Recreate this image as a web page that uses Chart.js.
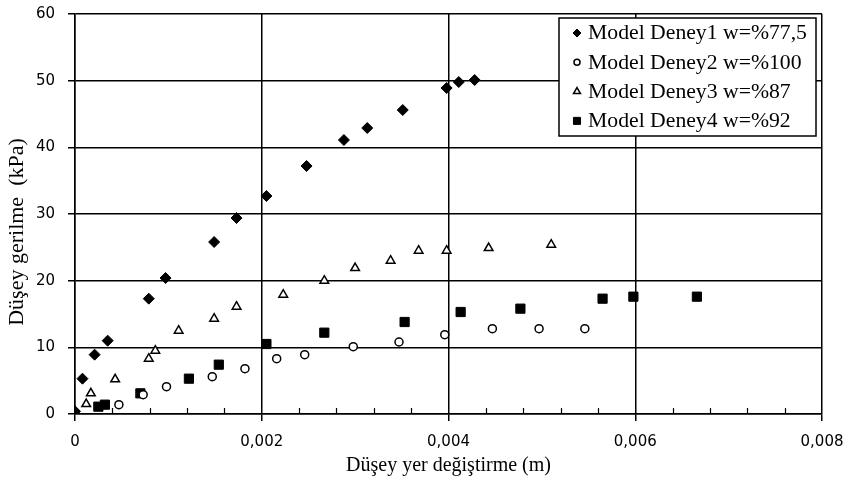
<!DOCTYPE html>
<html>
<head>
<meta charset="utf-8">
<script src="https://cdn.jsdelivr.net/npm/chart.js@4/dist/chart.umd.min.js"></script>
<style>
  body { margin: 0; background: #fff; }
  #wrap { width: 851px; height: 486px; }
</style>
</head>
<body>
<div id="wrap"><canvas id="grafik"></canvas></div>
<script>
// deney verileri: düşey yer değiştirme (m) / düşey gerilme (kPa)
const deney1X = [0, 0.00008, 0.00021, 0.00035, 0.00079, 0.00097, 0.00149, 0.00173, 0.00205, 0.00248, 0.00288, 0.00313, 0.00351, 0.00398, 0.00411, 0.00428];
const deney1Y = [0.4, 5.3, 8.9, 11.0, 17.3, 20.4, 25.8, 29.4, 32.7, 37.2, 41.1, 42.9, 45.6, 48.9, 49.8, 50.1];

const deney2X = [0, 0.00047, 0.00073, 0.00098, 0.00147, 0.00182, 0.00216, 0.00246, 0.00298, 0.00347, 0.00396, 0.00447, 0.00497, 0.00546];
const deney2Y = [0, 1.4, 2.9, 4.1, 5.6, 6.8, 8.3, 8.9, 10.1, 10.8, 11.9, 12.8, 12.8, 12.8];

const deney3X = [0, 0.00012, 0.00017, 0.00043, 0.00079, 0.00086, 0.00111, 0.00149, 0.00173, 0.00223, 0.00267, 0.00300, 0.00338, 0.00368, 0.00398, 0.00443, 0.00510];
const deney3Y = [0, 1.5, 3.1, 5.2, 8.3, 9.5, 12.5, 14.3, 16.1, 17.9, 20.0, 21.9, 23.0, 24.5, 24.5, 24.9, 25.4];

const deney4X = [0.00025, 0.00032, 0.0007, 0.00122, 0.00154, 0.00205, 0.00267, 0.00353, 0.00413, 0.00477, 0.00565, 0.00598, 0.00666];
const deney4Y = [1.1, 1.4, 3.1, 5.3, 7.4, 10.5, 12.2, 13.8, 15.3, 15.8, 17.3, 17.6, 17.6];

const etiketler = ["Model Deney1 w=%77,5", "Model Deney2 w=%100", "Model Deney3 w=%87", "Model Deney4 w=%92"];
const xBaslik = "Düşey yer değiştirme (m)";
const yBaslik = "Düşey gerilme  (kPa)";

const serif = "'Liberation Serif', 'Times New Roman', serif";
const sans = "'DejaVu Sans', Verdana, sans-serif";

const pts = (xs, ys) => xs.map((x, i) => ({ x, y: ys[i] }));

// ara çentikler (eksenin içine doğru) + y başlığı + kutulu lejant
const ekler = {
  id: "ekler",
  afterDraw(chart) {
    const ctx = chart.ctx;
    const xs = chart.scales.x;
    const area = chart.chartArea;
    ctx.save();
    ctx.strokeStyle = "#000";
    ctx.lineWidth = 1.2;
    for (let k = 1; k < 20; k++) {
      if (k % 5 === 0) continue;
      const px = Math.round(xs.getPixelForValue(k * 0.0004)) + 0.5;
      ctx.beginPath();
      ctx.moveTo(px, area.bottom);
      ctx.lineTo(px, area.bottom - 6);
      ctx.stroke();
    }

    // y başlığı
    ctx.save();
    ctx.translate(17, 232);
    ctx.rotate(-Math.PI / 2);
    ctx.fillStyle = "#000";
    ctx.font = "22px " + serif;
    ctx.textAlign = "center";
    ctx.textBaseline = "middle";
    ctx.fillText(yBaslik, 0, 0);
    ctx.restore();

    // lejant
    const lx = area.right - 263, ly = area.top + 4, lw = 257, lh = 118;
    ctx.fillStyle = "#fff";
    ctx.fillRect(lx, ly, lw, lh);
    ctx.lineWidth = 1.5;
    ctx.strokeRect(lx, ly, lw, lh);
    ctx.font = "20px " + serif;
    ctx.textBaseline = "middle";
    chart.data.datasets.forEach((ds, i) => {
      const cy = ly + 15 + i * 29.3;
      ctx.fillStyle = ds.pointBackgroundColor;
      ctx.strokeStyle = "#000";
      ctx.lineWidth = ds.pointBorderWidth;
      Chart.helpers.drawPoint(ctx, {
        pointStyle: ds.pointStyle,
        radius: ds.legendRadius,
        rotation: 0,
        borderWidth: ds.pointBorderWidth
      }, lx + 18, cy);
      ctx.save();
      ctx.translate(lx + 29, cy + 1);
      ctx.scale(1.085, 1);
      ctx.fillStyle = "#000";
      ctx.fillText(ds.label, 0, 0);
      ctx.restore();
    });
    ctx.restore();
  }
};

new Chart(document.getElementById("grafik"), {
  type: "scatter",
  data: {
    datasets: [
      { label: etiketler[0], data: pts(deney1X, deney1Y), pointStyle: "rectRot", pointRadius: 5.5, legendRadius: 4,
        pointBackgroundColor: "#000", pointBorderColor: "#000", pointBorderWidth: 1 },
      { label: etiketler[1], data: pts(deney2X, deney2Y), pointStyle: "circle", pointRadius: 4, legendRadius: 3,
        pointBackgroundColor: "#fff", pointBorderColor: "#000", pointBorderWidth: 1.5 },
      { label: etiketler[2], data: pts(deney3X, deney3Y), pointStyle: "triangle", pointRadius: 5, legendRadius: 4,
        pointBackgroundColor: "#fff", pointBorderColor: "#000", pointBorderWidth: 1.5 },
      { label: etiketler[3], data: pts(deney4X, deney4Y), pointStyle: "rect", pointRadius: 6.5, legendRadius: 5,
        pointBackgroundColor: "#000", pointBorderColor: "#000", pointBorderWidth: 1 }
    ]
  },
  options: {
    responsive: true,
    maintainAspectRatio: false,
    animation: false,
    layout: { padding: { top: 14, right: 29, left: 0, bottom: 0 } },
    plugins: {
      legend: { display: false },
      tooltip: { enabled: false }
    },
    scales: {
      x: {
        type: "linear",
        min: 0,
        max: 0.008,
        afterFit: (s) => { s.height = 72; s.paddingLeft = 0; s.paddingRight = 0; },
        border: { color: "#000", width: 1.5 },
        grid: { color: "#000", lineWidth: 1.5, tickLength: 7 },
        ticks: {
          stepSize: 0.002,
          color: "#000",
          padding: 12,
          font: { family: sans, size: 15 },
          callback: (v) => v === 0 ? "0" : v.toFixed(3).replace(".", ",")
        },
        title: {
          display: true,
          text: xBaslik,
          color: "#000",
          font: { family: serif, size: 20 },
          padding: { top: 0, bottom: 8 }
        }
      },
      y: {
        min: 0,
        max: 60,
        afterFit: (s) => { s.width = 75; s.paddingTop = 0; s.paddingBottom = 0; },
        border: { color: "#000", width: 1.5 },
        grid: { color: "#000", lineWidth: 1.5, tickLength: 7 },
        ticks: {
          stepSize: 10,
          color: "#000",
          padding: 13,
          font: { family: sans, size: 15 }
        }
      }
    }
  },
  plugins: [ekler]
});
</script>
</body>
</html>
